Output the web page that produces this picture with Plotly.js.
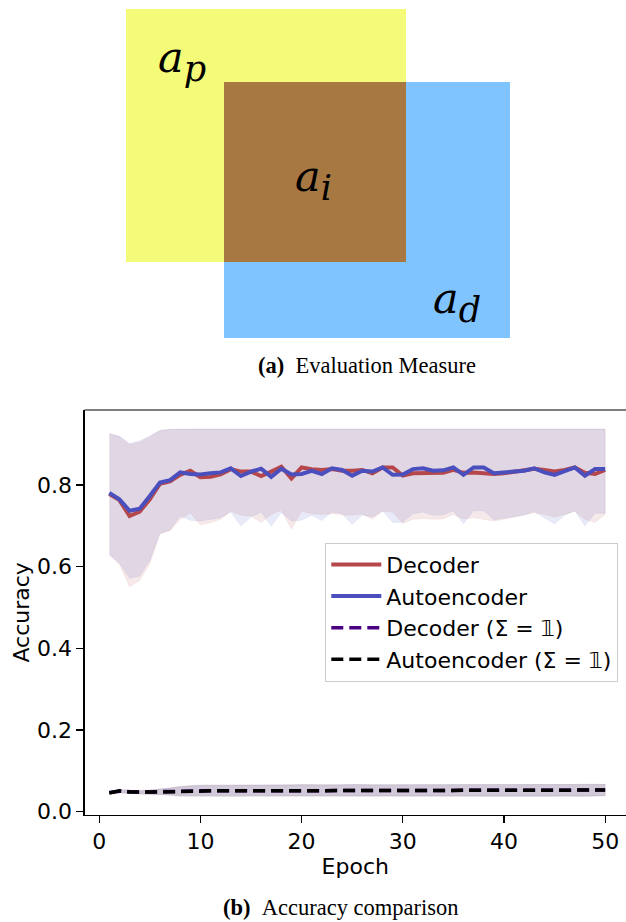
<!DOCTYPE html>
<html>
<head>
<meta charset="utf-8">
<script src="https://cdn.plot.ly/plotly-3.0.1.min.js"></script>
<style>html,body{margin:0;padding:0;background:#fff;overflow:hidden}</style>
</head>
<body>
<div id="chart" style="width:626px;height:922px"></div>
<script>
// ---------- Panel (a): region extents in panel pixel units ----------
const predX = [126, 406], predY = [9, 262];
const detX = [224, 510], detY = [82, 338];
const interX = [224, 406], interY = [82, 262];

// ---------- Panel (b): accuracy per epoch ----------
const epochs = [1,2,3,4,5,6,7,8,9,10,11,12,13,14,15,16,17,18,19,20,21,22,23,24,25,26,27,28,29,30,31,32,33,34,35,36,37,38,39,40,41,42,43,44,45,46,47,48,49,50];

const decMean = [0.778,0.763,0.724,0.735,0.765,0.803,0.809,0.825,0.835,0.819,0.820,0.826,0.839,0.833,0.833,0.822,0.833,0.845,0.816,0.843,0.839,0.837,0.839,0.835,0.835,0.837,0.829,0.843,0.843,0.823,0.829,0.830,0.829,0.830,0.837,0.830,0.831,0.829,0.827,0.829,0.833,0.837,0.840,0.837,0.833,0.837,0.843,0.830,0.827,0.837];
const aeMean = [0.781,0.765,0.737,0.742,0.773,0.806,0.812,0.831,0.827,0.826,0.829,0.831,0.841,0.822,0.833,0.840,0.820,0.840,0.826,0.827,0.835,0.827,0.841,0.837,0.823,0.835,0.833,0.843,0.825,0.826,0.839,0.841,0.835,0.836,0.843,0.825,0.843,0.843,0.829,0.831,0.833,0.835,0.841,0.831,0.825,0.835,0.843,0.823,0.839,0.839];

const decUpper = [0.925,0.918,0.899,0.905,0.918,0.933,0.936,0.937,0.937,0.937,0.937,0.938,0.937,0.937,0.938,0.937,0.937,0.938,0.937,0.937,0.937,0.938,0.937,0.937,0.937,0.938,0.937,0.937,0.938,0.937,0.937,0.937,0.938,0.937,0.937,0.937,0.938,0.937,0.937,0.937,0.937,0.938,0.937,0.937,0.937,0.938,0.937,0.937,0.937,0.937];
const decLower = [0.629,0.606,0.551,0.566,0.607,0.680,0.688,0.716,0.732,0.702,0.708,0.716,0.736,0.726,0.724,0.708,0.728,0.738,0.692,0.736,0.730,0.728,0.730,0.727,0.726,0.729,0.716,0.736,0.734,0.706,0.716,0.718,0.716,0.717,0.728,0.717,0.720,0.716,0.712,0.716,0.722,0.728,0.732,0.728,0.722,0.728,0.736,0.716,0.708,0.728];
const aeUpper = [0.926,0.920,0.902,0.908,0.920,0.934,0.937,0.937,0.938,0.937,0.937,0.937,0.938,0.937,0.937,0.937,0.938,0.937,0.937,0.937,0.938,0.937,0.937,0.937,0.937,0.938,0.937,0.937,0.937,0.938,0.937,0.937,0.937,0.937,0.938,0.937,0.937,0.937,0.938,0.937,0.937,0.937,0.937,0.938,0.937,0.937,0.937,0.938,0.937,0.937];
const aeLower = [0.630,0.609,0.572,0.577,0.616,0.682,0.690,0.724,0.714,0.712,0.716,0.720,0.734,0.700,0.722,0.734,0.699,0.733,0.712,0.714,0.726,0.713,0.734,0.730,0.704,0.726,0.722,0.737,0.708,0.709,0.730,0.734,0.726,0.727,0.737,0.705,0.737,0.737,0.715,0.719,0.722,0.726,0.735,0.719,0.705,0.726,0.737,0.700,0.731,0.731];

const decSigMean = [0.047,0.050,0.049,0.048,0.048,0.049,0.050,0.050,0.051,0.051,0.051,0.051,0.051,0.052,0.052,0.052,0.052,0.052,0.052,0.052,0.052,0.052,0.052,0.052,0.053,0.052,0.052,0.052,0.052,0.052,0.052,0.052,0.052,0.053,0.052,0.052,0.052,0.052,0.052,0.052,0.052,0.052,0.052,0.052,0.052,0.053,0.052,0.052,0.052,0.053];
const aeSigMean = [0.046,0.051,0.048,0.047,0.048,0.048,0.049,0.050,0.051,0.051,0.051,0.051,0.051,0.051,0.052,0.052,0.052,0.052,0.052,0.053,0.052,0.052,0.052,0.052,0.053,0.052,0.052,0.052,0.052,0.052,0.052,0.052,0.052,0.052,0.052,0.052,0.052,0.052,0.052,0.052,0.052,0.052,0.052,0.052,0.052,0.052,0.052,0.052,0.052,0.053];
const decSigUpper = [0.050,0.054,0.053,0.052,0.053,0.056,0.059,0.062,0.064,0.065,0.065,0.065,0.065,0.066,0.066,0.066,0.066,0.066,0.066,0.066,0.066,0.066,0.066,0.066,0.067,0.066,0.066,0.066,0.066,0.066,0.066,0.066,0.066,0.066,0.066,0.066,0.066,0.066,0.066,0.066,0.066,0.066,0.066,0.066,0.066,0.067,0.066,0.066,0.066,0.067];
const decSigLower = [0.044,0.046,0.045,0.044,0.043,0.042,0.041,0.039,0.038,0.038,0.038,0.038,0.038,0.038,0.038,0.038,0.038,0.038,0.038,0.038,0.038,0.038,0.038,0.038,0.039,0.038,0.038,0.038,0.038,0.038,0.038,0.038,0.038,0.039,0.038,0.038,0.038,0.038,0.038,0.038,0.038,0.038,0.038,0.038,0.038,0.039,0.038,0.038,0.038,0.039];
const aeSigUpper = [0.049,0.055,0.052,0.051,0.053,0.055,0.058,0.062,0.064,0.065,0.065,0.065,0.065,0.065,0.066,0.066,0.066,0.066,0.066,0.067,0.066,0.066,0.066,0.066,0.067,0.066,0.066,0.066,0.066,0.066,0.066,0.066,0.066,0.066,0.066,0.066,0.066,0.066,0.066,0.066,0.066,0.066,0.066,0.066,0.066,0.066,0.066,0.066,0.066,0.067];
const aeSigLower = [0.043,0.047,0.044,0.043,0.043,0.041,0.040,0.038,0.038,0.037,0.037,0.037,0.037,0.037,0.038,0.038,0.038,0.038,0.038,0.039,0.038,0.038,0.038,0.038,0.039,0.038,0.038,0.038,0.038,0.038,0.038,0.038,0.038,0.038,0.038,0.038,0.038,0.038,0.038,0.038,0.038,0.038,0.038,0.038,0.038,0.038,0.038,0.038,0.038,0.039];

const seriesNames = ['Decoder', 'Autoencoder', 'Decoder (\u03A3 = \uD835\uDFD9)', 'Autoencoder (\u03A3 = \uD835\uDFD9)'];
const xTicks = [0, 10, 20, 30, 40, 50];
const yTicks = [0, 0.2, 0.4, 0.6, 0.8];
const yTickText = ['0.0', '0.2', '0.4', '0.6', '0.8'];

// ---------- helpers ----------
function rect(xs, ys, color) {
  return {
    x: [xs[0], xs[1], xs[1], xs[0], xs[0]],
    y: [ys[0], ys[0], ys[1], ys[1], ys[0]],
    xaxis: 'x2', yaxis: 'y2', type: 'scatter', mode: 'lines',
    fill: 'toself', fillcolor: color, line: {width: 0, color: color},
    showlegend: false, hoverinfo: 'skip'
  };
}
function band(lo, hi, color) {
  return {
    x: epochs.concat(epochs.slice().reverse()),
    y: hi.concat(lo.slice().reverse()),
    type: 'scatter', mode: 'lines', fill: 'toself', fillcolor: color,
    line: {width: 0.6, color: color}, showlegend: false, hoverinfo: 'skip'
  };
}
function line(y, name, color, width, dash) {
  return {x: epochs, y: y, name: name, type: 'scatter', mode: 'lines',
    line: {color: color, width: width, dash: dash}};
}

const RED = '#b5474b', BLUE = '#4b4fbd', PURPLE = '#4b0082', BLACK = '#000000';

const traces = [
  rect(predX, predY, '#f4fb78'),
  rect(detX, detY, '#80c4ff'),
  rect(interX, interY, '#a87842'),
  band(decLower, decUpper, 'rgba(181,71,75,0.12)'),
  band(aeLower, aeUpper, 'rgba(75,79,189,0.12)'),
  band(decSigLower, decSigUpper, 'rgba(75,0,130,0.12)'),
  band(aeSigLower, aeSigUpper, 'rgba(0,0,0,0.10)'),
  line(decMean, seriesNames[0], RED, 4, 'solid'),
  line(aeMean, seriesNames[1], BLUE, 4, 'solid'),
  line(decSigMean, seriesNames[2], PURPLE, 3.5, '12px,6px'),
  line(aeSigMean, seriesNames[3], BLACK, 3.5, '12px,6px')
];

const W = 626, H = 922;
const plotL = 84.5, plotT = 410, plotB = 814.8;
const tickFont = {family: 'DejaVu Sans', size: 22, color: '#000'};
const mathFont = {family: 'DejaVu Serif', size: 43, color: '#000'};
const capFont = {family: 'Liberation Serif', size: 22.5, color: '#000'};
const sub = s => '<sub><span style="font-size:35px"><i>' + s + '</i></span></sub>';

const layout = {
  width: W, height: H,
  margin: {l: 0, r: 0, t: 0, b: 0},
  paper_bgcolor: '#fff', plot_bgcolor: 'rgba(0,0,0,0)',
  showlegend: true,
  xaxis: {
    domain: [plotL / W, 1], range: [-1.453, 52.06], anchor: 'y',
    tickvals: xTicks, ticks: 'outside', ticklen: 7, tickwidth: 1.2, tickcolor: '#000',
    showline: true, linecolor: '#000', linewidth: 1.2, showgrid: false, zeroline: false,
    tickfont: tickFont, title: {text: 'Epoch', font: tickFont, standoff: 2}
  },
  yaxis: {
    domain: [(H - plotB) / H, (H - plotT) / H], range: [-0.0076, 0.9838], anchor: 'x',
    tickvals: yTicks, ticktext: yTickText, ticks: 'outside', ticklen: 7, tickwidth: 1.2, tickcolor: '#000',
    showline: true, linecolor: '#000', linewidth: 1.2, showgrid: false, zeroline: false,
    tickfont: tickFont, title: {text: 'Accuracy', font: tickFont, standoff: 1}
  },
  xaxis2: {domain: [0, 1], range: [0, W], anchor: 'y2', visible: false, fixedrange: true},
  yaxis2: {domain: [1 - 380 / H, 1], range: [380, 0], anchor: 'x2', visible: false, fixedrange: true},
  shapes: [
    {type: 'line', xref: 'x domain', yref: 'y domain', x0: 0, x1: 1, y0: 1, y1: 1,
     line: {color: '#000', width: 1.2}}
  ],
  legend: {
    x: 618.3 / W, xanchor: 'right', y: (H - 542.7) / H, yanchor: 'top',
    bgcolor: 'rgba(255,255,255,0.8)', bordercolor: '#cccccc', borderwidth: 1,
    font: {family: 'DejaVu Sans', size: 22, color: '#000'},
    itemwidth: 50, entrywidth: 238
  },
  annotations: [
    {xref: 'x2', yref: 'y2', x: 182, y: 60, text: '<i>a</i>' + sub('p'), showarrow: false, font: mathFont, xanchor: 'center', yanchor: 'middle'},
    {xref: 'x2', yref: 'y2', x: 313, y: 179, text: '<i>a</i>' + sub('i'), showarrow: false, font: mathFont, xanchor: 'center', yanchor: 'middle'},
    {xref: 'x2', yref: 'y2', x: 457, y: 301, text: '<i>a</i>' + sub('d'), showarrow: false, font: mathFont, xanchor: 'center', yanchor: 'middle'},
    {xref: 'x2', yref: 'y2', x: 367, y: 365, text: '<b>(a)</b>\u2002Evaluation Measure', showarrow: false, font: capFont, xanchor: 'center', yanchor: 'middle'},
    {xref: 'paper', yref: 'paper', x: 341 / W, y: (H - 907) / H, text: '<b>(b)</b>\u2002Accuracy comparison', showarrow: false, font: capFont, xanchor: 'center', yanchor: 'middle'}
  ]
};

Plotly.newPlot('chart', traces, layout, {staticPlot: true, displayModeBar: false});
</script>
</body>
</html>
